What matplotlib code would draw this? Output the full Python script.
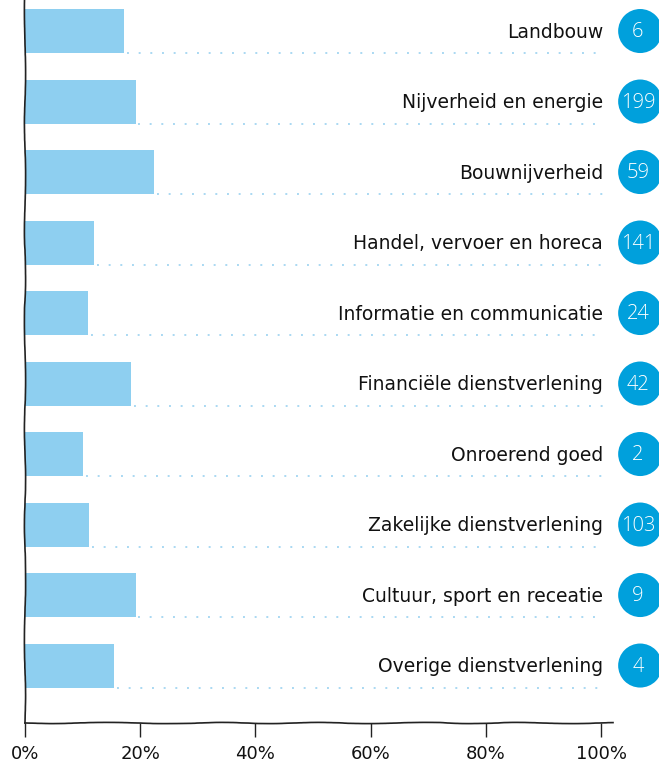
import matplotlib
matplotlib.use("Agg")
import matplotlib.pyplot as plt
import numpy as np

categories = ["Landbouw", "Nijverheid en energie", "Bouwnijverheid",
              "Handel, vervoer en horeca", "Informatie en communicatie",
              "Financiële dienstverlening", "Onroerend goed",
              "Zakelijke dienstverlening", "Cultuur, sport en receatie",
              "Overige dienstverlening"]
percentages = [17.2, 19.2, 22.4, 12.0, 10.9, 18.4, 10.1, 11.1, 19.2, 15.5]
counts = [6, 199, 59, 141, 24, 42, 2, 103, 9, 4]
tick_values = [0, 20, 40, 60, 80, 100]
tick_labels = ["0%", "20%", "40%", "60%", "80%", "100%"]

W, H = 659, 764
fig = plt.figure(figsize=(W / 100, H / 100), dpi=100)
ax = fig.add_axes([25 / W, (H - 723) / H, (613 - 25) / W, 723 / H])

bar_color = "#8ecff0"
circle_color = "#00a0dc"
dot_color = "#a9d8f2"

ypos = np.arange(len(categories))
bar_h = 0.624
ax.barh(ypos, percentages, height=bar_h, color=bar_color, edgecolor="none", zorder=2)

label_x = 100.35
for y, p, cat, n in zip(ypos, percentages, categories, counts):
    ax.plot([p + 0.5, label_x], [y + bar_h / 2, y + bar_h / 2], color=dot_color,
            linestyle=(0, (1, 5)), linewidth=1.4, zorder=1, clip_on=False)
    ax.text(label_x, y + 0.02, cat, ha="right", va="center", fontsize=13.5,
            color="#111111", family="DejaVu Sans", clip_on=False)
    ax.text(106.4, y + 0.02, str(n), ha="center", va="center", fontsize=14.5,
            color="white", family="Open Sans", fontweight="light",
            zorder=5, clip_on=False)

ax.scatter([106.8] * len(ypos), ypos, s=1005, color=circle_color,
           edgecolor="none", zorder=4, clip_on=False)

ax.set_xlim(0, (613 - 25) / 5.76)
ax.set_ylim(9.815, -0.44)
ax.set_yticks([])
ax.set_xticks(tick_values)
ax.set_xticklabels(tick_labels, fontsize=13, family="DejaVu Sans", color="#111111")
ax.tick_params(axis="x", length=10, width=1, color="#222222", pad=6)
for s in ["top", "right"]:
    ax.spines[s].set_visible(False)
for s in ["left", "bottom"]:
    ax.spines[s].set_color("#222222")
    ax.spines[s].set_linewidth(1.2)
    ax.spines[s].set_sketch_params(scale=0.6, length=150, randomness=4)
ax.patch.set_visible(False)

fig.savefig("out.png", dpi=100)
